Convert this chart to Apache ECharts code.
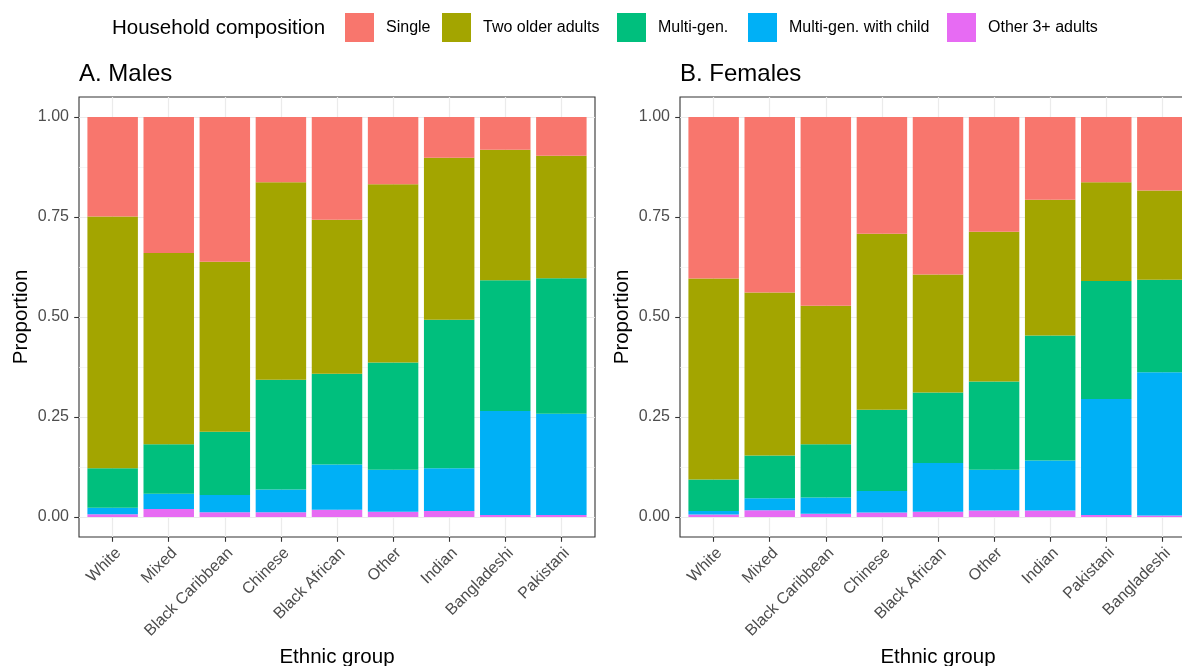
<!DOCTYPE html>
<html><head><meta charset="utf-8">
<script src="https://cdn.jsdelivr.net/npm/echarts@6/dist/echarts.min.js"></script>
<style>html,body{margin:0;padding:0;background:#fff}#c{width:1182px;height:666px}</style>
</head><body><div id="c"></div>
<script>
// ---- data ----
const seriesNames = ['Single', 'Two older adults', 'Multi-gen.', 'Multi-gen. with child', 'Other 3+ adults'];
const seriesColors = ['#F8766D', '#A3A500', '#00BF7D', '#00B0F6', '#E76BF3'];
const yTickValues = [0, 0.25, 0.5, 0.75, 1];

const maleGroups = ['White', 'Mixed', 'Black Caribbean', 'Chinese', 'Black African', 'Other', 'Indian', 'Bangladeshi', 'Pakistani'];
const maleSingle   = [0.249, 0.340, 0.362, 0.163, 0.257, 0.168, 0.102, 0.082, 0.097];
const maleTwoOlder = [0.629, 0.478, 0.425, 0.494, 0.385, 0.446, 0.405, 0.326, 0.306];
const maleMultiGen = [0.099, 0.124, 0.158, 0.274, 0.227, 0.268, 0.371, 0.327, 0.339];
const maleMGChild  = [0.016, 0.038, 0.043, 0.057, 0.113, 0.105, 0.107, 0.260, 0.253];
const maleOther3   = [0.007, 0.020, 0.012, 0.012, 0.018, 0.013, 0.015, 0.005, 0.005];

const femaleGroups = ['White', 'Mixed', 'Black Caribbean', 'Chinese', 'Black African', 'Other', 'Indian', 'Pakistani', 'Bangladeshi'];
const femaleSingle   = [0.404, 0.439, 0.472, 0.292, 0.394, 0.287, 0.207, 0.163, 0.184];
const femaleTwoOlder = [0.502, 0.407, 0.346, 0.440, 0.295, 0.374, 0.339, 0.247, 0.223];
const femaleMultiGen = [0.079, 0.107, 0.133, 0.203, 0.176, 0.221, 0.313, 0.295, 0.231];
const femaleMGChild  = [0.009, 0.030, 0.041, 0.054, 0.122, 0.102, 0.125, 0.290, 0.358];
const femaleOther3   = [0.006, 0.017, 0.008, 0.011, 0.013, 0.016, 0.016, 0.005, 0.004];

// ---- layout ----
const FONT = "'Liberation Sans', Arial, Helvetica, sans-serif";
const frameW = 516, frameH = 440, frameTop = 97;
const unit = frameW / 9.2;           // one category step
const innerPad = unit * 0.1;         // ggplot expansion beyond outer bands
const panelLefts = [79, 680];

// gridline helper axes for the frame (category axes, boundaryGap false)
const xFrameSteps = Array.from({length: 47}, (_, i) => 'x' + i);  // 0.4 .. 9.6 step 0.2
const yFrameSteps = Array.from({length: 45}, (_, i) => 'y' + i);  // -0.05 .. 1.05 step 0.025

const grids = [], xAxes = [], yAxes = [], series = [];
const panels = [
  {groups: maleGroups, vals: [maleOther3, maleMGChild, maleMultiGen, maleTwoOlder, maleSingle]},
  {groups: femaleGroups, vals: [femaleOther3, femaleMGChild, femaleMultiGen, femaleTwoOlder, femaleSingle]}
];
const stackOrder = [4, 3, 2, 1, 0]; // indexes into seriesNames, bottom -> top

panels.forEach((p, k) => {
  const L = panelLefts[k];
  const gFrame = grids.length;
  grids.push({left: L, top: frameTop, width: frameW, height: frameH, show: true,
              outerBoundsMode: 'none', containLabel: false,
              borderColor: '#333333', borderWidth: 1.1, backgroundColor: '#ffffff'});
  const gBars = grids.length;
  grids.push({left: L + innerPad, top: frameTop + 20, width: frameW - 2 * innerPad, height: 400,
              outerBoundsMode: 'none', containLabel: false});

  // frame gridlines
  xAxes.push({gridIndex: gFrame, type: 'category', boundaryGap: false, data: xFrameSteps,
    axisLine: {show: false, onZero: false}, axisTick: {show: false}, axisLabel: {show: false},
    splitLine: {show: true, interval: (i) => i % 5 === 3, lineStyle: {color: '#ebebeb', width: 1.2}}});
  yAxes.push({gridIndex: gFrame, type: 'category', boundaryGap: false, data: yFrameSteps,
    axisLine: {show: false, onZero: false}, axisTick: {show: false}, axisLabel: {show: false},
    splitLine: {show: true, interval: (i) => i % 10 === 2, lineStyle: {color: '#ebebeb', width: 1.2}}});
  yAxes.push({gridIndex: gFrame, type: 'category', boundaryGap: false, data: yFrameSteps, position: 'right',
    axisLine: {show: false, onZero: false}, axisTick: {show: false}, axisLabel: {show: false},
    splitLine: {show: true, interval: (i) => i % 10 === 7, lineStyle: {color: '#f0f0f0', width: 0.7}}});

  // bar axes
  const xb = xAxes.length;
  xAxes.push({gridIndex: gBars, type: 'category', data: p.groups, offset: 20, position: 'bottom',
    axisLine: {show: false, onZero: false},
    axisTick: {show: true, alignWithLabel: true, length: 4.8, lineStyle: {color: '#333333', width: 1.1}},
    axisLabel: {rotate: 45, align: 'right', verticalAlign: 'top', color: '#4d4d4d', fontSize: 16,
                fontFamily: FONT, margin: 8, interval: 0},
    splitLine: {show: false},
    name: 'Ethnic group', nameLocation: 'middle', nameGap: 108,
    nameTextStyle: {color: '#000', fontSize: 20.5, fontFamily: FONT}});
  const yb = yAxes.length;
  yAxes.push({gridIndex: gBars, type: 'value', min: 0, max: 1, interval: 0.25, offset: innerPad, position: 'left',
    axisLine: {show: false, onZero: false},
    axisTick: {show: true, length: 4.8, lineStyle: {color: '#333333', width: 1.1}},
    axisLabel: {color: '#4d4d4d', fontSize: 16, fontFamily: FONT, margin: 10,
                formatter: (v) => yTickValues.includes(+v.toFixed(4)) ? v.toFixed(2) : ''},
    splitLine: {show: false},
    name: 'Proportion', nameLocation: 'middle', nameGap: 47,
    nameTextStyle: {color: '#000', fontSize: 20.5, fontFamily: FONT}});

  stackOrder.forEach((si, j) => {
    series.push({
      name: seriesNames[si], type: 'bar', stack: 'panel' + k,
      xAxisIndex: xb, yAxisIndex: yb,
      barCategoryGap: '10%',
      itemStyle: {color: seriesColors[si]},
      emphasis: {disabled: true},
      data: p.vals[j]
    });
  });
});

// legends (one per key, positioned like the reference)
const legendLefts = [345, 442, 617, 748, 947];
const legends = seriesNames.map((n, i) => ({
  data: [n], left: legendLefts[i], top: 13, padding: 0, orient: 'horizontal',
  itemWidth: 29, itemHeight: 29, icon: 'rect', selectedMode: false,
  itemStyle: {color: seriesColors[i], borderWidth: 0},
  textStyle: {fontSize: 16, color: '#000', fontFamily: FONT, padding: [0, 0, 0, 7]}
}));

const chart = echarts.init(document.getElementById('c'), null, {renderer: 'canvas'});
chart.setOption({
  animation: false,
  backgroundColor: '#ffffff',
  grid: grids, xAxis: xAxes, yAxis: yAxes, series: series, legend: legends,
  graphic: [
    {type: 'text', left: 112, top: 18, style: {text: 'Household composition', fontSize: 20.5, fontFamily: FONT, fill: '#000'}},
    {type: 'text', left: 79, top: 62, style: {text: 'A. Males', fontSize: 24, fontFamily: FONT, fill: '#000'}},
    {type: 'text', left: 680, top: 62, style: {text: 'B. Females', fontSize: 24, fontFamily: FONT, fill: '#000'}}
  ]
});
</script></body></html>
